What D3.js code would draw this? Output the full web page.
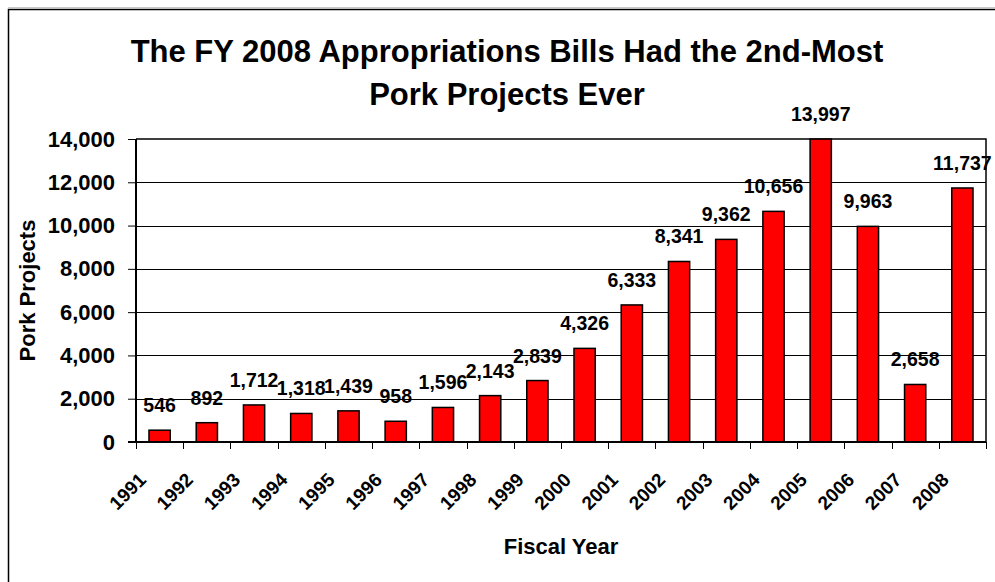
<!DOCTYPE html>
<html>
<head>
<meta charset="utf-8">
<script src="https://cdn.jsdelivr.net/npm/d3@7"></script>
<style>
  html, body { margin: 0; padding: 0; background: #fff; }
  svg { display: block; font-family: "Liberation Sans", Arial, sans-serif; font-weight: bold; }
</style>
</head>
<body>
<svg id="chart" width="995" height="582"></svg>
<script>
// Pork projects per fiscal year
const years = ["1991","1992","1993","1994","1995","1996","1997","1998","1999",
               "2000","2001","2002","2003","2004","2005","2006","2007","2008"];
const projects = [546, 892, 1712, 1318, 1439, 958, 1596, 2143, 2839,
                  4326, 6333, 8341, 9362, 10656, 13997, 9963, 2658, 11737];
const yTicks = [0, 2000, 4000, 6000, 8000, 10000, 12000, 14000];
const titleLines = ["The FY 2008 Appropriations Bills Had the 2nd-Most", "Pork Projects Ever"];
const xTitle = "Fiscal Year";
const yTitle = "Pork Projects";

const svg = d3.select("#chart");
const plot = { left: 136, right: 986, top: 139, bottom: 442 };

const x = d3.scaleBand()
  .domain(years)
  .range([plot.left, plot.right])
  .paddingInner(0.55)
  .paddingOuter(0.275);
const step = x.step();

const y = d3.scaleLinear()
  .domain([0, 14000])
  .range([plot.bottom, plot.top]);

const fmt = d3.format(",");

// Outer frame
svg.append("line")
  .attr("x1", 8).attr("x2", 995).attr("y1", 7.5).attr("y2", 7.5)
  .attr("stroke", "#c8c8c8").attr("stroke-width", 1);
svg.append("rect")
  .attr("x", 8.5).attr("y", 9.5).attr("width", 1000).attr("height", 600)
  .attr("fill", "none").attr("stroke", "#000").attr("stroke-width", 1.5);

// Title
svg.append("text")
  .attr("text-anchor", "middle")
  .attr("font-size", 31)
  .selectAll("tspan")
  .data(titleLines)
  .join("tspan")
  .attr("x", 507)
  .attr("y", (d, i) => 62 + i * 43)
  .text(d => d);

// Horizontal gridlines
svg.append("g")
  .selectAll("line")
  .data(yTicks.filter(v => v > 0 && v < 14000))
  .join("line")
  .attr("x1", plot.left).attr("x2", plot.right)
  .attr("y1", d => Math.round(y(d)) + 0.5).attr("y2", d => Math.round(y(d)) + 0.5)
  .attr("stroke", "#000").attr("stroke-width", 1);

// Plot area top and right edges
svg.append("path")
  .attr("d", `M${plot.left},${plot.top} H${plot.right} V${plot.bottom}`)
  .attr("fill", "none").attr("stroke", "#000").attr("stroke-width", 1.5);

// Bars
svg.append("g")
  .selectAll("rect")
  .data(years.map((yr, i) => ({ yr, v: projects[i] })))
  .join("rect")
  .attr("x", d => x(d.yr))
  .attr("y", d => y(d.v))
  .attr("width", x.bandwidth())
  .attr("height", d => y(0) - y(d.v))
  .attr("fill", "#ff0000")
  .attr("stroke", "#000")
  .attr("stroke-width", 1.5);

// Value labels above bars
svg.append("g")
  .attr("text-anchor", "middle")
  .attr("font-size", 19.5)
  .selectAll("text")
  .data(years.map((yr, i) => ({ yr, v: projects[i] })))
  .join("text")
  .attr("x", d => x(d.yr) + x.bandwidth() / 2)
  .attr("y", d => y(d.v) - 18)
  .text(d => fmt(d.v));

// Y axis
const yAxis = d3.axisLeft(y)
  .tickValues(yTicks)
  .tickFormat(fmt)
  .tickSize(8)
  .tickPadding(13);
const gy = svg.append("g")
  .attr("transform", `translate(${plot.left},0)`)
  .call(yAxis);
gy.select(".domain").remove();
gy.selectAll(".tick line").attr("stroke", "#000").attr("stroke-width", 1);
gy.selectAll(".tick text")
  .attr("font-family", "Liberation Sans, Arial, sans-serif")
  .attr("font-weight", "bold")
  .attr("font-size", 22)
  .attr("fill", "#000");

// X axis: ticks on category boundaries, labels on category centres
const boundaries = d3.range(years.length + 1).map(i => plot.left + i * step);
svg.append("g")
  .selectAll("line")
  .data(boundaries)
  .join("line")
  .attr("x1", d => Math.round(d) + 0.5).attr("x2", d => Math.round(d) + 0.5)
  .attr("y1", plot.bottom).attr("y2", plot.bottom + 7)
  .attr("stroke", "#000").attr("stroke-width", 1);

svg.append("g")
  .attr("text-anchor", "end")
  .attr("font-size", 19)
  .selectAll("text")
  .data(years)
  .join("text")
  .attr("transform", d => `translate(${x(d) + x.bandwidth() / 2 - 12.5},${plot.bottom + 39}) rotate(-45)`)
  .text(d => d);

// Axis lines
svg.append("line")
  .attr("x1", plot.left).attr("x2", plot.left)
  .attr("y1", plot.top).attr("y2", plot.bottom + 1)
  .attr("stroke", "#000").attr("stroke-width", 2);
svg.append("line")
  .attr("x1", plot.left - 8).attr("x2", plot.right)
  .attr("y1", plot.bottom).attr("y2", plot.bottom)
  .attr("stroke", "#000").attr("stroke-width", 2);

// Axis titles
svg.append("text")
  .attr("x", (plot.left + plot.right) / 2)
  .attr("y", 554)
  .attr("text-anchor", "middle")
  .attr("font-size", 22)
  .text(xTitle);

svg.append("text")
  .attr("transform", `translate(35,${(plot.top + plot.bottom) / 2}) rotate(-90)`)
  .attr("text-anchor", "middle")
  .attr("font-size", 22)
  .text(yTitle);
</script>
</body>
</html>
